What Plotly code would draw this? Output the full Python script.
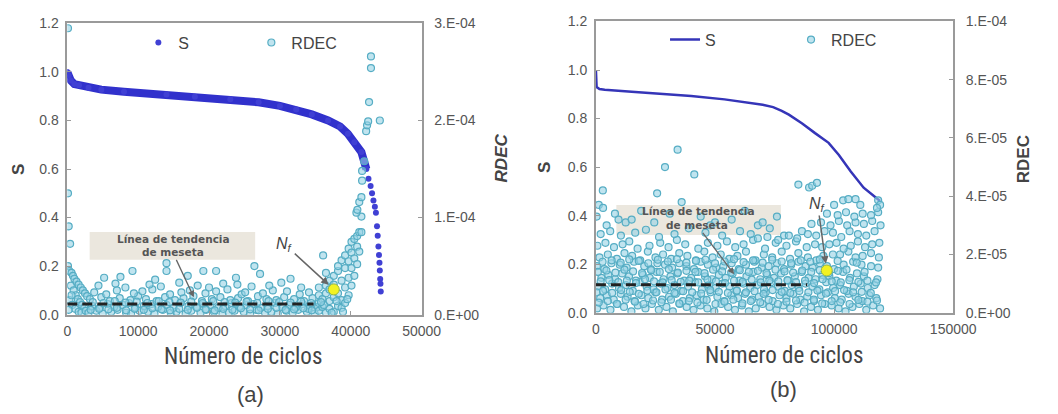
import plotly.graph_objects as go

W, H = 1058, 414
def px(x): return x / W
def py(y): return 1 - y / H

# ---------------- data: panel (a) ----------------
s_a_kcycles = [0, 0.2, 0.5, 1.0, 1.65, 3.0, 4.8, 8.0, 14.0, 18.0, 23.0, 27.0, 30.0, 32.3, 34.5,
               36.8, 38.5, 39.6, 40.5, 41.5, 42.2, 42.5, 42.8, 43.0, 43.2, 43.4, 43.55, 43.7, 43.8, 43.9,
               43.98, 44.05, 44.1, 44.15, 44.19, 44.23]
s_a_values = [1.00, 0.985, 0.965, 0.95, 0.945, 0.935, 0.927, 0.918, 0.907, 0.898, 0.887, 0.875, 0.86, 0.845, 0.825,
              0.80, 0.775, 0.745, 0.71, 0.67, 0.60, 0.56, 0.53, 0.50, 0.47, 0.445, 0.42, 0.364, 0.325, 0.281,
              0.246, 0.214, 0.182, 0.147, 0.127, 0.095]

rdec_a_kcycles = [
    0.1, 0.1, 0.2, 0.4, 0.1, 0.3, 0.6, 0.8, 1.0, 1.3, 1.6, 1.9, 2.2, 2.5, 2.8,
    0.5, 0.9, 1.2, 1.5, 1.8, 2.1, 2.4, 0.3, 0.7, 1.1, 1.6, 2.0, 2.6, 0.2, 0.6,
    3.0, 4.1, 5.0, 6.2, 7.1, 8.3, 9.0, 10.2, 11.4, 12.3, 13.5, 14.6, 15.4, 16.7, 17.5, 18.8,
    19.6, 20.7, 21.9, 22.8, 23.6, 24.9, 25.8, 26.7, 27.9, 28.8, 29.7, 30.9, 31.8, 32.6, 33.8, 34.9,
    3.5, 4.6, 5.7, 6.6, 7.8, 8.7, 9.6, 10.8, 11.9, 12.8, 14.0, 15.0, 16.0, 17.1, 18.2, 19.2,
    20.2, 21.3, 22.3, 23.2, 24.3, 25.3, 26.3, 27.3, 28.3, 29.3, 30.3, 31.3, 32.2, 33.2, 34.3, 35.4,
    3.2, 4.8, 6.0, 7.4, 8.9, 10.0, 11.1, 12.6, 13.8, 15.2, 16.4, 17.8, 19.0, 20.4, 21.6, 23.0,
    24.1, 25.5, 26.9, 28.1, 29.5, 30.6, 32.0, 33.4, 34.6,
    3.8, 5.5, 7.0, 9.4, 10.6, 12.0, 14.5, 16.1, 17.3, 19.5, 21.0, 22.6, 24.6, 25.1, 27.6, 29.0, 31.0, 32.8, 34.1,
    4.4, 6.8, 8.2, 11.6, 13.2, 15.8, 18.4, 20.0, 22.0, 24.0, 26.0, 28.5, 30.2, 33.0,
    5.2, 7.5, 12.4, 17.0, 19.2, 21.0, 23.8, 27.2, 31.5, 14.0, 14.0, 26.4, 9.2,
    35.5, 35.5, 35.5, 35.5, 36.0, 36.0, 36.1, 36.5, 36.5, 36.5, 36.5, 37.0, 37.0, 37.0, 37.0,
    37.6, 37.6, 37.6, 37.6, 38.2, 38.2, 38.2, 38.2, 38.7, 38.7, 38.7, 38.7, 39.2, 39.2, 39.2, 39.2,
    39.7, 39.7, 39.7, 39.7, 40.1, 40.1, 40.1, 40.1, 40.5, 40.5, 40.5, 40.9, 40.9, 40.9,
    41.2, 41.2, 41.2, 41.5, 41.5, 41.5, 41.6, 41.6, 41.9, 40.8, 40.93,
    42.17, 42.3, 42.45, 42.58, 42.85, 42.85, 44.1,
    36.2, 37.3, 38.0, 38.9, 39.5, 34.0,
    3.3, 4.5, 5.8, 7.0, 8.3, 9.5, 10.8, 12.0, 13.3, 14.5, 15.8, 17.0, 18.3, 19.5, 20.8, 22.0,
    23.3, 24.5, 25.8, 27.0, 28.3, 29.5, 30.8, 32.0, 33.3, 34.5,
    3.6, 5.1, 6.7, 8.2, 9.8, 11.3, 12.9, 14.4, 16.0, 17.5, 19.1, 20.6, 22.2, 23.7, 25.3, 26.8,
    28.4, 29.9, 31.5, 33.0, 34.4, 35.8,
]
rdec_a_e6 = [
    295, 125, 91, 73, 50, 45, 43, 40, 37, 34, 31, 28, 25, 22, 19,
    30, 25, 20, 16, 13, 10, 7, 15, 10, 6, 3, 2, 4, 5, 20,
    2, 4, 1, 3, 5, 2, 1, 4, 3, 1, 5, 2, 3, 1, 4, 2,
    5, 3, 1, 2, 4, 3, 1, 5, 2, 3, 1, 4, 2, 5, 3, 1,
    9, 7, 11, 8, 10, 12, 7, 9, 11, 8, 10, 7, 12, 9, 8, 11,
    10, 7, 9, 12, 8, 10, 11, 7, 9, 12, 8, 10, 7, 11, 9, 8,
    16, 18, 14, 17, 15, 19, 16, 14, 18, 15, 17, 19, 14, 16, 18, 15,
    17, 14, 19, 16, 15, 18, 16, 14, 17,
    23, 21, 25, 22, 24, 26, 21, 23, 25, 22, 24, 26, 21, 23, 22, 25, 24, 21, 23,
    30, 32, 28, 31, 29, 33, 30, 28, 32, 31, 29, 30, 33, 28,
    38, 39, 36, 40, 45, 45, 38, 42, 37, 53, 45, 50, 45,
    4, 12, 20, 28, 8, 16, 61, 43, 2, 22, 30, 6, 14, 26, 35,
    3, 18, 31, 40, 9, 22, 45, 50, 7, 15, 35, 56, 12, 28, 48, 61,
    20, 38, 55, 68, 30, 48, 64, 75, 40, 58, 78, 52, 70, 81,
    65, 85, 116, 85, 101, 121, 138, 148, 158, 105, 108,
    189, 195, 199, 219, 254, 266, 200,
    10, 2, 14, 3, 16, 6,
    5, 6, 5.5, 7, 4.5, 6, 5, 6.5, 5.5, 4.5, 6, 5, 7, 5.5, 4.5, 6,
    5, 6.5, 5.5, 4.5, 6, 7, 5, 5.5, 6.5, 4.5,
    13, 12, 14, 12.5, 13.5, 12, 14, 13, 12.5, 13.5, 12, 14, 13, 12.5, 13.5, 12,
    14, 13, 12.5, 13.5, 12, 13,
]
nf_a_kcycles = 37.6
nf_a_e6 = 26
plateau_a_e6 = 11
plateau_a_end_kcycles = 34.75

# ---------------- data: panel (b) ----------------
s_b_kcycles = [0, 0.3, 1.5, 3.7, 15, 26.6, 40, 54, 65, 70, 74.4, 78, 81, 86.6, 92, 97.7, 102, 107, 112.4, 116, 119.3]
s_b_values = [1.0, 0.93, 0.922, 0.919, 0.91, 0.903, 0.893, 0.879, 0.865, 0.857, 0.847, 0.832, 0.816, 0.78, 0.74,
              0.70, 0.65, 0.582, 0.515, 0.485, 0.46]

rdec_b_kcycles = [
    0.5, 3.2, 6.1, 9.0, 11.8, 14.9, 17.6, 20.8, 23.5, 26.4, 29.6, 32.3, 35.2, 38.1, 41.0, 43.9, 46.8, 49.7, 52.6, 55.5, 58.4,
    61.3, 64.2, 67.1, 70.0, 72.9, 75.8, 78.7, 81.6, 84.5, 87.4, 90.3, 93.2, 96.1, 99.0, 101.9, 104.8, 107.7, 110.6, 113.5, 116.4, 119.3,
    1.8, 4.6, 7.5, 10.4, 13.3, 16.2, 19.1, 22.0, 24.9, 27.8, 30.7, 33.6, 36.5, 39.4, 42.3, 45.2, 48.1, 51.0, 53.9, 56.8,
    59.7, 62.6, 65.5, 68.4, 71.3, 74.2, 77.1, 80.0, 82.9, 85.8, 88.7, 91.6, 94.5, 97.4, 100.3, 103.2, 106.1, 109.0, 111.9, 114.8, 117.7,
    0.8, 3.9, 6.8, 9.7, 12.6, 15.5, 18.4, 21.3, 24.2, 27.1, 30.0, 32.9, 35.8, 38.7, 41.6, 44.5, 47.4, 50.3, 53.2, 56.1,
    59.0, 61.9, 64.8, 67.7, 70.6, 73.5, 76.4, 79.3, 82.2, 85.1, 88.0, 90.9, 93.8, 96.7, 99.6, 102.5, 105.4, 108.3, 111.2, 114.1, 117.0,
    2.3, 5.2, 8.1, 11.0, 13.9, 16.8, 19.7, 22.6, 25.5, 28.4, 31.3, 34.2, 37.1, 40.0, 42.9, 45.8, 48.7, 51.6, 54.5, 57.4,
    60.3, 63.2, 66.1, 69.0, 71.9, 74.8, 77.7, 80.6, 83.5, 86.4, 89.3, 92.2, 95.1, 98.0, 100.9, 103.8, 106.7, 109.6, 112.5, 118.2,
    0.4, 3.5, 6.5, 10.0, 12.9, 16.0, 20.3, 23.0, 25.8, 29.0, 32.0, 35.0, 38.0, 41.2, 44.0, 47.0, 50.5, 53.5,
    57.0, 60.0, 63.0, 66.5, 69.6, 72.5, 76.0, 79.0, 82.0, 85.0, 88.0, 91.0, 94.0, 97.0, 100.0, 104.0, 108.0, 115.5,
    1.5, 5.0, 8.8, 12.0, 15.2, 18.6, 21.8, 25.0, 28.2, 31.6, 35.0, 38.4, 42.0, 45.5, 49.0,
    52.4, 56.0, 59.4, 63.0, 67.0, 70.5, 74.0, 78.0, 81.5, 85.0, 89.0, 92.5, 99.5, 106.0, 112.0,
    0.6, 4.0, 7.6, 11.2, 14.0, 17.5, 22.5, 27.0, 30.5, 34.0, 37.5, 43.0,
    47.0, 51.0, 55.0, 58.5, 62.0, 66.0, 71.0, 75.5, 80.0, 84.0, 88.5, 92.0,
    2.0, 6.0, 10.5, 16.5, 21.0, 26.5, 33.0, 39.0, 46.0, 53.0, 60.5, 65.0, 73.0, 79.0, 86.5,
    0.3, 1.2, 2.9, 4.5, 8.0, 12.5, 15.0, 19.0, 24.5, 25.7, 29.0, 34.3, 36.0, 41.3, 44.0,
    50.0, 57.0, 62.5, 68.0, 76.0, 85.0, 89.5, 90.8, 92.8, 3.0, 9.5, 31.0, 48.0, 70.0,
    95.5, 102.5, 109.0, 115.5, 118.8, 111.5, 118.5,
    95.0, 98.0, 101.0, 104.0, 107.0, 110.0, 113.0, 116.0, 119.0,
    89.0, 92.5, 96.0, 99.5, 103.0, 106.5, 110.0, 113.5, 117.0,
    90.5, 94.5, 98.5, 102.0, 105.5, 109.0, 112.5, 116.0, 119.5,
    97.0, 101.5, 105.0, 108.5, 112.0, 115.5, 118.5,
    103.8, 106.0, 109.0, 118.5, 119.3, 118.0, 100.0, 111.0,
    68.0, 72.0, 76.5, 81.0, 84.5,
    1.2, 5.0, 8.8, 12.5, 16.4, 20.0, 24.0, 27.5, 31.5, 35.0, 39.0, 42.6, 46.5, 50.2, 54.0, 57.7,
    61.5, 65.0, 69.0, 72.5, 76.4, 80.0, 84.0, 87.6, 91.5, 95.0, 99.0, 102.6, 106.5, 110.2, 114.0, 118.0,
    0.3, 3.0, 6.8, 10.6, 14.2, 18.0, 21.6, 25.4, 29.2, 33.0, 36.6, 40.4, 44.2, 48.0, 51.6, 55.4,
    59.2, 63.0, 66.6, 70.4, 74.2, 78.0, 81.6, 85.4, 89.2, 93.0, 96.6, 100.4, 104.2, 108.0, 111.6, 115.4,
    2.0, 5.6, 9.4, 13.0, 16.8, 20.6, 24.4, 28.0, 31.8, 35.6, 39.2, 43.0, 46.8, 50.4, 54.2, 58.0,
    61.6, 65.4, 69.2, 72.8, 76.6, 80.4, 84.0, 87.8, 91.6, 95.2, 99.0, 102.8, 106.4, 110.2, 114.0, 117.6,
    0.8, 4.4, 8.2, 12.0, 15.6, 19.4, 23.2, 26.8, 30.6, 34.4, 38.0, 41.8, 45.6, 49.2, 53.0,
    56.8, 60.4, 64.2, 68.0, 71.6, 75.4, 79.2, 82.8, 86.6, 90.4, 94.0, 97.8, 101.6, 105.2, 112.8,
    2.8, 6.6, 10.4, 14.0, 18.0, 22.0, 26.0, 30.2, 34.0, 38.0, 42.0, 46.0, 50.0,
    54.0, 58.0, 62.0, 66.0, 70.0, 74.0, 78.0, 82.0, 86.0, 90.0, 94.0, 101.5, 109.5,
]
rdec_b_e6 = [
    1.5, 2.5, 1, 3, 2, 0.5, 2.5, 1.5, 3, 1, 2, 0.5, 3, 2, 1, 2.5, 1.5, 0.5, 3, 2, 1,
    2.5, 0.5, 1.5, 3, 2, 1, 2.5, 1.5, 3, 0.5, 2, 1, 3, 2.5, 1.5, 0.5, 2, 3, 1, 2.5, 1.5,
    5, 6, 4.5, 6.5, 5.5, 4, 6, 5, 7, 4.5, 5.5, 6.5, 4, 5, 6, 4.5, 7, 5.5, 4, 6,
    5, 6.5, 4.5, 5.5, 7, 4, 6, 5, 6.5, 4.5, 5.5, 4, 6, 7, 5, 4.5, 6.5, 5.5, 4, 6, 5,
    9, 8, 10, 8.5, 9.5, 7.5, 10.5, 9, 8, 10, 8.5, 9.5, 7.5, 9, 10.5, 8, 9.5, 8.5, 10, 9,
    7.5, 10, 8.5, 9.5, 8, 10.5, 9, 7.5, 9.5, 8.5, 10, 9, 8, 10.5, 8.5, 9.5, 7.5, 9, 10, 8.5, 9.5,
    12, 13, 11.5, 13.5, 12.5, 11, 13, 12, 14, 11.5, 12.5, 13.5, 11, 12, 14, 12.5, 11.5, 13, 12, 13.5,
    11, 12.5, 14, 11.5, 13, 12, 13.5, 11, 12.5, 14, 12, 11.5, 13, 12.5, 11, 14, 12, 13.5, 12.5, 11.5,
    16, 15, 17, 16.5, 15.5, 17.5, 16, 15, 17, 16.5, 15.5, 17, 16, 15, 17.5, 16.5, 15.5, 16,
    17, 15, 16.5, 17.5, 15.5, 16, 17, 15, 16.5, 17.5, 16, 15.5, 17, 16, 15, 16.5, 17.5, 16,
    19, 20, 18.5, 20.5, 19.5, 18, 21, 19, 20, 18.5, 20.5, 19.5, 18, 21, 19,
    20, 18.5, 19.5, 21, 18, 20, 19, 21, 18.5, 20.5, 19, 18, 20, 21, 19.5,
    23, 24, 22.5, 23.5, 24.5, 22, 23, 24, 22.5, 25, 23.5, 22,
    24, 23, 24.5, 22.5, 23.5, 25, 22, 24, 23, 24.5, 22.5, 23.5,
    27, 28, 26.5, 27.5, 28.5, 26, 27, 29, 27.5, 26.5, 28, 27, 29, 26.5, 28,
    33, 37, 42, 30, 34, 31, 32, 35, 31, 41, 50, 56, 38, 47.5, 33,
    31, 32, 35, 30, 33, 44, 43, 43.6, 44.6, 36, 32, 34, 30, 31,
    19.5, 20, 19, 20.5, 19, 16.5, 15.5,
    22.5, 23.5, 24, 22, 23, 24.5, 22.5, 23.5, 24,
    27, 26.5, 28, 27.5, 26, 28, 27, 26.5, 28,
    30.5, 31, 30, 31.5, 30, 31, 30.5, 31.5, 30,
    34, 33.5, 34.5, 33, 34, 33.5, 34.5,
    38.6, 39, 39, 38.6, 37, 36, 37, 37,
    25.5, 26, 25, 26.5, 25.5,
    3.5, 4, 3, 4.5, 3.8, 3, 4.2, 3.6, 4.5, 3.2, 4, 3.5, 4.4, 3, 3.8, 4.5,
    3.2, 4, 3.6, 4.4, 3, 3.8, 4.2, 3.5, 4.5, 3.2, 4, 3.6, 3, 4.4, 3.8, 4.2,
    7, 7.5, 6.8, 7.8, 7.2, 6.5, 7.6, 7, 8, 6.8, 7.4, 7, 6.6, 7.8, 7.2, 6.8,
    7.6, 7, 7.4, 6.5, 7.8, 7.2, 6.8, 7.5, 7, 7.6, 6.6, 7.4, 7.8, 7, 7.2, 6.8,
    10.8, 11.2, 10.5, 11, 10.2, 11.5, 10.8, 10.4, 11.2, 10.6, 11, 10.4, 11.4, 10.8, 10.2, 11,
    10.6, 11.4, 10.4, 11, 10.8, 11.2, 10.5, 11, 10.2, 11.5, 10.8, 10.4, 11.2, 10.6, 11, 10.4,
    14, 14.5, 13.8, 14.8, 14.2, 13.6, 14.6, 14, 15, 13.8, 14.4, 14, 13.6, 14.8, 14.2,
    13.8, 14.6, 14, 14.4, 13.6, 14.8, 14.2, 13.8, 14.5, 14, 14.6, 13.6, 14.4, 14.8, 14,
    17.5, 18, 17.2, 18.3, 17.8, 17, 18.2, 17.6, 18.4, 17.2, 17.8, 18.2, 17,
    17.6, 18.4, 17.4, 18, 17.2, 18.2, 17.6, 17, 18, 17.5, 18.3, 17.8, 17.2,
]
nf_b_kcycles = 96.9
nf_b_e6 = 14.5
plateau_b_e6 = 9.6
plateau_b_end_kcycles = 88.7

# tick labels
ticks_a_x = [0, 10000, 20000, 30000, 40000, 50000]
ticks_b_x = [0, 50000, 100000, 150000]
ticks_s = [0.0, 0.2, 0.4, 0.6, 0.8, 1.0, 1.2]
ticks_a_rdec = [0, 1e-4, 2e-4, 3e-4]
ticklabels_a_rdec = ["0.E+00", "1.E-04", "2.E-04", "3.E-04"]
ticks_b_rdec = [0, 2e-5, 4e-5, 6e-5, 8e-5, 1e-4]
ticklabels_b_rdec = ["0.E+00", "2.E-05", "4.E-05", "6.E-05", "8.E-05", "1.E-04"]

# ---------------- conversions ----------------
K = 1000.0
E6 = 1e-6
sa_x = [v * K for v in s_a_kcycles]
ra_x = [v * K for v in rdec_a_kcycles]
ra_y = [v * E6 for v in rdec_a_e6]
sb_x = [v * K for v in s_b_kcycles]
rb_x = [v * K for v in rdec_b_kcycles]
rb_y = [v * E6 for v in rdec_b_e6]
thick_idx = [i for i, v in enumerate(s_a_kcycles) if v <= 42.2]

FONT = "Liberation Sans, Arial, sans-serif"
NARROW = "Liberation Sans Narrow, Roboto Condensed, DejaVu Sans Condensed, Liberation Sans, sans-serif"
BLUE = "#3131cc"
RD_FILL = "rgba(150,210,228,0.6)"
RD_LINE = "#56adc4"
rdec_marker = dict(symbol="circle", size=7, color=RD_FILL, line=dict(color=RD_LINE, width=1.2))

fig = go.Figure()
# panel (a)
fig.add_trace(go.Scatter(x=[sa_x[i] for i in thick_idx], y=[s_a_values[i] for i in thick_idx],
                         mode="lines", line=dict(color=BLUE, width=8), xaxis="x", yaxis="y",
                         showlegend=False, hoverinfo="skip"))
fig.add_trace(go.Scatter(x=sa_x, y=s_a_values, mode="markers", name="S", legendgroup="sa",
                         marker=dict(color="#4040d4", size=6), xaxis="x", yaxis="y", legend="legend"))
fig.add_trace(go.Scatter(x=ra_x, y=ra_y, mode="markers", name="RDEC", legendgroup="ra", marker=rdec_marker,
                         xaxis="x", yaxis="y2", legend="legend"))
fig.add_trace(go.Scatter(x=[0, plateau_a_end_kcycles * K], y=[plateau_a_e6 * E6] * 2, mode="lines",
                         line=dict(color="#222", width=3, dash="10px,5px"), xaxis="x", yaxis="y2",
                         showlegend=False))
fig.add_trace(go.Scatter(x=[nf_a_kcycles * K], y=[nf_a_e6 * E6], mode="markers",
                         marker=dict(color="#f2f222", size=11, line=dict(color="#9ab840", width=1)),
                         xaxis="x", yaxis="y2", showlegend=False))
# panel (b)
fig.add_trace(go.Scatter(x=sb_x, y=s_b_values, mode="lines", name="S", legendgroup="sb",
                         line=dict(color="#3535b8", width=2.5), xaxis="x2", yaxis="y3", legend="legend2"))
fig.add_trace(go.Scatter(x=rb_x, y=rb_y, mode="markers", name="RDEC", legendgroup="rb", marker=rdec_marker,
                         xaxis="x2", yaxis="y4", legend="legend2"))
fig.add_trace(go.Scatter(x=[0, plateau_b_end_kcycles * K], y=[plateau_b_e6 * E6] * 2, mode="lines",
                         line=dict(color="#222", width=3, dash="10px,5px"), xaxis="x2", yaxis="y4",
                         showlegend=False))
fig.add_trace(go.Scatter(x=[nf_b_kcycles * K], y=[nf_b_e6 * E6], mode="markers",
                         marker=dict(color="#f2f222", size=11, line=dict(color="#9ab840", width=1)),
                         xaxis="x2", yaxis="y4", showlegend=False))

axis_common = dict(showline=True, linecolor="#9a9a9a", linewidth=1.6, ticks="inside", ticklen=4,
                   tickcolor="#9a9a9a", showgrid=False, zeroline=False,
                   tickfont=dict(family=FONT, size=14, color="#555"))

leg_common = dict(orientation="h", xanchor="left", yanchor="middle", bgcolor="rgba(0,0,0,0)",
                  font=dict(family=FONT, size=16, color="#444"), entrywidthmode="pixels",
                  itemwidth=30, tracegroupgap=0)

fig.update_layout(
    width=W, height=H, margin=dict(l=0, r=0, t=0, b=0),
    paper_bgcolor="white", plot_bgcolor="white",
    xaxis=dict(domain=[px(65), px(429)], range=[0, 50000], tickvals=ticks_a_x, tickformat="d",
               anchor="y", mirror=True, ticklabelstandoff=3, **axis_common),
    yaxis=dict(domain=[py(319), py(16)], range=[0, 1.2], tickvals=ticks_s, tickformat=".1f",
               anchor="x", ticklabelstandoff=4, **axis_common),
    yaxis2=dict(range=[0, 3e-4], tickvals=ticks_a_rdec, ticktext=ticklabels_a_rdec, overlaying="y",
                side="right", anchor="x", ticklabelstandoff=8, **axis_common),
    xaxis2=dict(domain=[px(608), px(975)], range=[0, 150000], tickvals=ticks_b_x, tickformat="d",
                anchor="y3", mirror=True, ticklabelstandoff=3, **axis_common),
    yaxis3=dict(domain=[py(317), py(14)], range=[0, 1.2], tickvals=ticks_s, tickformat=".1f",
                anchor="x2", ticklabelstandoff=4, **axis_common),
    yaxis4=dict(range=[0, 1e-4], tickvals=ticks_b_rdec, ticktext=ticklabels_b_rdec, overlaying="y3",
                side="right", anchor="x2", ticklabelstandoff=8, **axis_common),
    legend=dict(x=px(138), y=py(36), entrywidth=68, **leg_common),
    legend2=dict(x=px(679), y=py(33), entrywidth=81, **leg_common),
)

shapes = [
    dict(type="rect", xref="paper", yref="paper", x0=px(88), x1=px(258), y0=py(262), y1=py(233),
         fillcolor="#ebe7de", line=dict(width=0), layer="below"),
    dict(type="rect", xref="paper", yref="paper", x0=px(629), x1=px(798), y0=py(236), y1=py(205),
         fillcolor="#ebe7de", line=dict(width=0), layer="below"),
]
fig.update_layout(shapes=shapes)

def text(x, y, s, size, angle=0, family=FONT, color="#444"):
    return dict(x=px(x), y=py(y), xref="paper", yref="paper", text=s, showarrow=False,
                font=dict(family=family, size=size, color=color), textangle=angle,
                xanchor="center", yanchor="middle")

BOXF = "DejaVu Sans, Verdana, sans-serif"
ann = [
    text(15, 168, "<b>S</b>", 17, -90),
    text(512, 156, "<b><i>RDEC</i></b>", 17, -90),
    text(555, 166, "<b>S</b>", 17, -90),
    text(1048, 157, "<b>RDEC</b>", 17, -90),
    text(245, 362, "Número de ciclos", 23, family=NARROW),
    text(801, 361, "Número de ciclos", 23, family=NARROW),
    text(253, 402, "(a)", 22),
    text(801, 397, "(b)", 22),
    text(174, 240, "<b>Línea de tendencia</b>", 10.5, family=BOXF, color="#555"),
    text(713, 211, "<b>Línea de tendencia</b>", 10.5, family=BOXF, color="#555"),
    # "de meseta" lines carry the arrows pointing to the plateau line
    dict(x=px(195), y=py(301), xref="paper", yref="paper", ax=-21, ay=-45,
         text="<b>de meseta</b>", showarrow=True, arrowhead=2, arrowsize=1, arrowwidth=1.3,
         arrowcolor="#666", standoff=0, font=dict(family=BOXF, size=10.5, color="#555")),
    dict(x=px(750), y=py(277), xref="paper", yref="paper", ax=-37, ay=-49,
         text="<b>de meseta</b>", showarrow=True, arrowhead=2, arrowsize=1, arrowwidth=1.3,
         arrowcolor="#666", standoff=0, font=dict(family=BOXF, size=10.5, color="#555")),
    # N_f
    dict(x=nf_a_kcycles * K, y=nf_a_e6 * E6, xref="x", yref="y2", ax=-49, ay=-45,
         text="<i>N</i><sub><i>f</i></sub>", showarrow=True, arrowhead=2, arrowsize=1, arrowwidth=1.5,
         arrowcolor="#666", standoff=7, font=dict(family=FONT, size=16, color="#444")),
    dict(x=nf_b_kcycles * K, y=nf_b_e6 * E6, xref="x2", yref="y4", ax=-9, ay=-66,
         text="<i>N</i><sub><i>f</i></sub>", showarrow=True, arrowhead=2, arrowsize=1, arrowwidth=1.5,
         arrowcolor="#666", standoff=7, font=dict(family=FONT, size=16, color="#444")),
]
fig.update_layout(annotations=ann)

fig.write_html("out.html")
